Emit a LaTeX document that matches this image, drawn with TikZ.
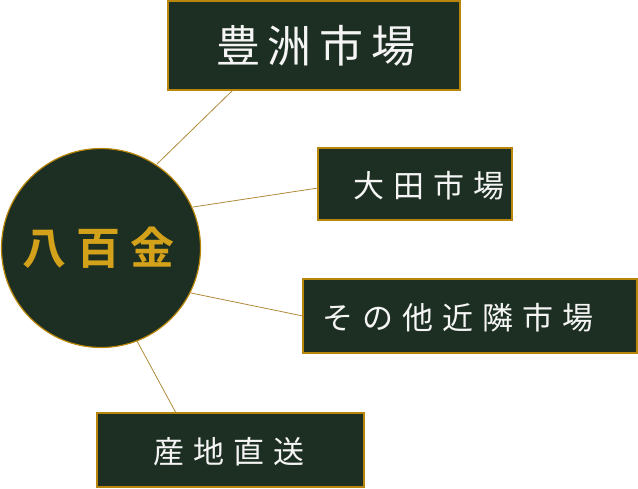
\documentclass[tikz,border=0pt]{standalone}
\usepackage{fontspec}
\newfontfamily\cjk{Noto Sans CJK JP}
\newfontfamily\cjkb{Noto Sans CJK JP Bold}
\definecolor{boardgreen}{HTML}{1D2F22}
\definecolor{goldline}{HTML}{B08A3A}
\definecolor{goldedge}{HTML}{B8860B}
\definecolor{goldtext}{HTML}{D4A21A}
\begin{document}
\begin{tikzpicture}[x=1pt,y=-1pt,
  board/.style={fill=boardgreen,draw=goldedge,line width=1.2pt},
  link/.style={draw=goldline,line width=0.8pt},
  lbl/.style={text=white!92!gray,inner sep=0pt}]
\useasboundingbox (0,0) rectangle (638,488);
% boxes
\path[board] (168,1) rectangle (460,90);
\node[lbl,font=\cjk\fontsize{44}{46}\selectfont] (toyosu) at (316,46) {豊\hspace{8pt}洲\hspace{8pt}市\hspace{8pt}場};
\coordinate (toyosuB) at (233,90);
\path[board] (318,148) rectangle (512,220);
\node[lbl,font=\cjk\fontsize{31}{33}\selectfont] (ota) at (429,186) {大\hspace{9pt}田\hspace{9pt}市\hspace{9pt}場};
\coordinate (otaL) at (318,188);
\path[board] (303,279) rectangle (637,353);
\node[lbl,font=\cjk\fontsize{31}{33}\selectfont] (other) at (458,318) {そ\hspace{9pt}の\hspace{9pt}他\hspace{9pt}近\hspace{9pt}隣\hspace{9pt}市\hspace{9pt}場};
\coordinate (otherL) at (303,316);
\path[board] (97,413) rectangle (364,487);
\node[lbl,font=\cjk\fontsize{31}{33}\selectfont] (sanchi) at (229,452) {産\hspace{9pt}地\hspace{9pt}直\hspace{9pt}送};
\coordinate (sanchiT) at (176,413);
% circle
\node[circle,fill=boardgreen,draw=goldedge,line width=1.2pt,minimum size=199pt,inner sep=0pt] (yao) at (101,248) {};
\node[text=goldtext,inner sep=0pt,font=\cjkb\fontsize{44}{46}\selectfont] (yaot) at (99,248) {八\hspace{10pt}百\hspace{10pt}金};
% links
\coordinate (c1) at (157,164);
\coordinate (c2) at (193,207);
\coordinate (c3) at (191,293);
\coordinate (c4) at (137,341);
\draw[link] (c1) -- (toyosuB);
\draw[link] (c2) -- (otaL);
\draw[link] (c3) -- (otherL);
\draw[link] (c4) -- (sanchiT);
\end{tikzpicture}
\end{document}
